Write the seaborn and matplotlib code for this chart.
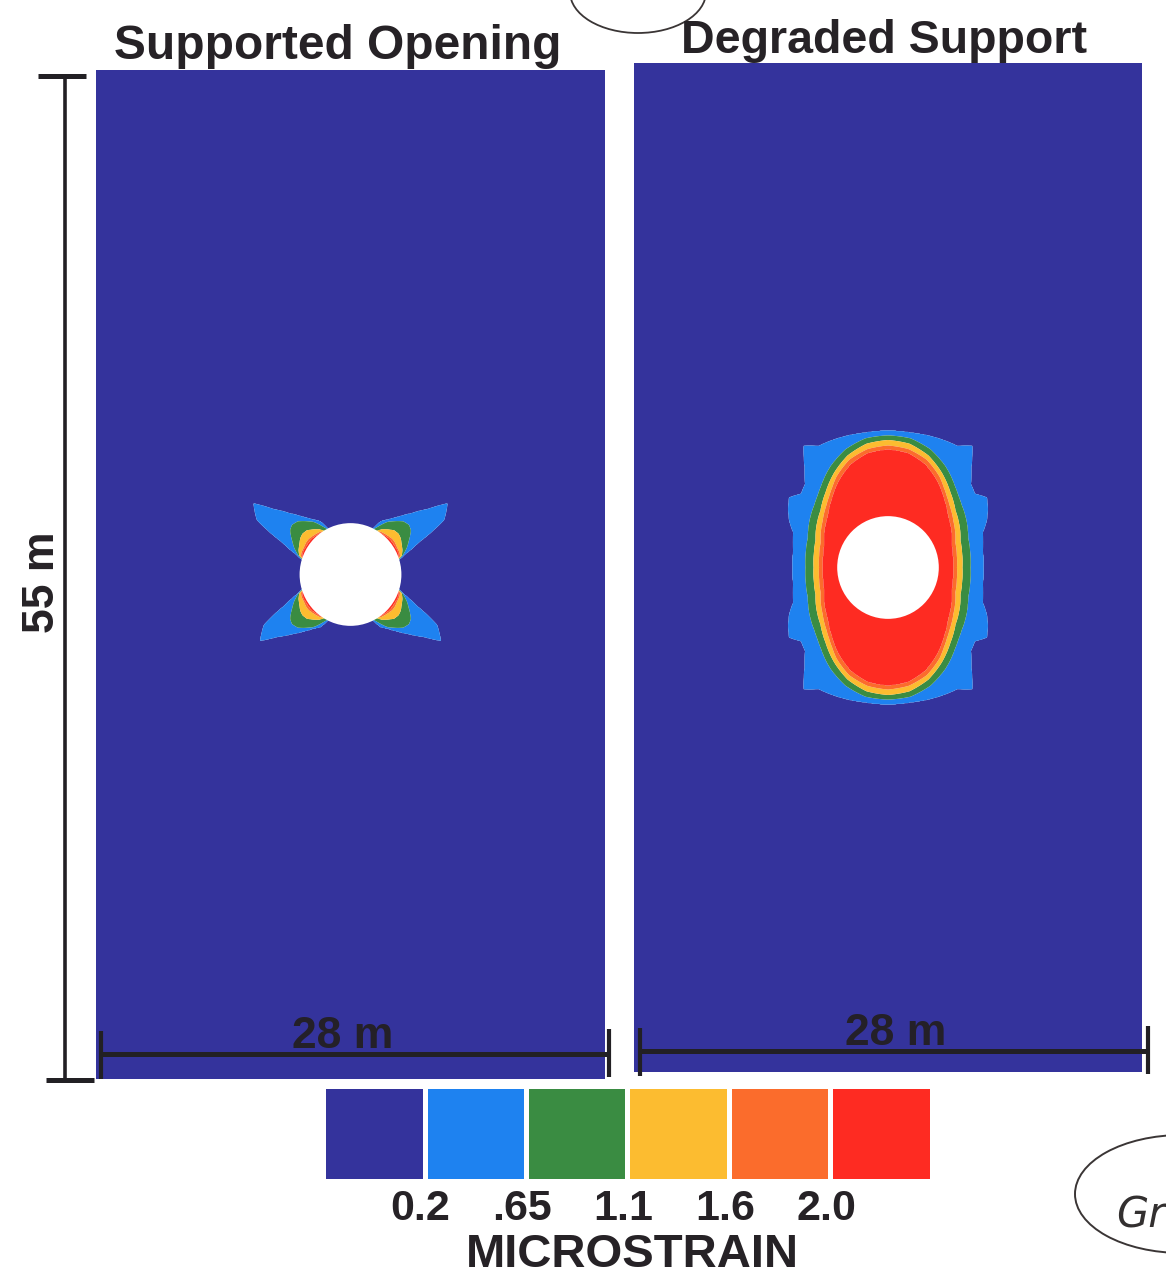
import numpy as np
import matplotlib
matplotlib.use("Agg")
import matplotlib.pyplot as plt
from matplotlib.colors import ListedColormap
from matplotlib.patches import Circle, Ellipse
import seaborn as sns

# ---------------------------------------------------------------------------
# Strain bands (microstrain) and fill colours
# ---------------------------------------------------------------------------
LEVELS = [0.2, 0.65, 1.1, 1.6, 2.0]
LEVEL_LABELS = ["0.2", ".65", "1.1", "1.6", "2.0"]
BAND_COLORS = ["#34339c", "#1e82f0", "#3a8c42", "#fcbc30", "#fb6c2c", "#fe2b22"]

# model block size (m) and opening radius (m)
WIDTH_M = 28.0
HEIGHT_M = 55.0
HOLE_RADIUS_M = 2.8

PANEL_TITLES = ["Supported Opening", "Degraded Support"]

# Supported opening: contour radius (m) against angle from the horizontal (deg),
# mirrored left/right; the lower half has its own outer contour
SUP_ANGLES = [0, 15, 20, 25, 30, 36, 40, 45, 50, 55, 60, 65, 90]
SUP_R_020 = [2.45, 2.6, 3.15, 4.15, 5.95, 6.6, 5.55, 4.7, 4.1, 3.65, 3.35, 2.6, 2.45]
SUP_R_020_LOW = [2.45, 2.6, 3.1, 4.0, 5.5, 6.15, 5.3, 4.6, 4.05, 3.6, 3.3, 2.6, 2.45]
SUP_R_065 = [2.45, 2.6, 3.05, 3.4, 3.7, 4.1, 4.2, 4.1, 3.8, 3.5, 3.0, 2.6, 2.45]
SUP_R_110 = [2.45, 2.5, 3.0, 3.15, 3.25, 3.4, 3.45, 3.4, 3.2, 3.0, 2.7, 2.45, 2.45]
SUP_R_160 = [2.45, 2.45, 2.9, 2.95, 2.95, 3.0, 3.0, 2.95, 2.9, 2.85, 2.5, 2.45, 2.45]
SUP_R_200 = [2.45, 2.45, 2.85, 2.9, 2.9, 2.9, 2.9, 2.88, 2.85, 2.82, 2.45, 2.45, 2.45]

# Degraded support: same layout, symmetric top and bottom
DEG_ANGLES = [0, 10, 20, 25, 30, 35, 40, 45, 50, 55, 60, 70, 80, 90]
DEG_R_020 = [5.25, 5.3, 5.55, 6.0, 6.35, 6.65, 6.25, 6.45, 7.15, 8.1, 7.65, 7.55, 7.45, 7.45]
DEG_R_065 = [4.55, 4.6, 4.7, 4.85, 5.0, 5.15, 5.3, 5.5, 5.75, 6.05, 6.35, 6.85, 7.15, 7.2]
DEG_R_110 = [4.1, 4.15, 4.25, 4.4, 4.55, 4.7, 4.85, 5.1, 5.35, 5.65, 5.95, 6.5, 6.85, 6.95]
DEG_R_160 = [3.8, 3.85, 3.95, 4.1, 4.25, 4.4, 4.6, 4.8, 5.05, 5.35, 5.7, 6.25, 6.55, 6.65]
DEG_R_200 = [3.6, 3.65, 3.75, 3.9, 4.05, 4.2, 4.35, 4.6, 4.85, 5.15, 5.45, 6.0, 6.35, 6.45]


def strain_field(X, Y, angles, upper, lower):
    """Piecewise-linear strain field whose level sets follow the given radii."""
    r = np.hypot(X, Y)
    th = np.degrees(np.arctan2(np.abs(Y), np.abs(X)))
    R = [np.where(Y >= 0, np.interp(th, angles, ru), np.interp(th, angles, rl))
         for ru, rl in zip(upper, lower)]
    for k in range(1, len(R)):
        R[k] = np.minimum(R[k], R[k - 1])
    f = LEVELS[0] - 0.1 * (r - R[0])
    for k in range(len(R) - 1):
        t = np.clip((R[k] - r) / (R[k] - R[k + 1] + 1e-9), 0, 1)
        f = np.where(r < R[k], LEVELS[k] + t * (LEVELS[k + 1] - LEVELS[k]), f)
    f = np.where(r < R[-1], LEVELS[-1] + 1e-6 + 0.1 * (R[-1] - r), f)
    return np.where(r < 0.97 * HOLE_RADIUS_M, np.nan, f)


sns.set_theme(style="white")
plt.rcParams["font.family"] = ["Liberation Sans", "DejaVu Sans"]
TEXT = "#262226"

W, H = 1166, 1275
fig = plt.figure(figsize=(W / 100, H / 100), dpi=100, facecolor="white")

xs = np.linspace(-WIDTH_M / 2, WIDTH_M / 2, 701)
ys = np.linspace(-HEIGHT_M / 2, HEIGHT_M / 2, 1377)
X, Y = np.meshgrid(xs, ys)

sup_upper = [SUP_R_020, SUP_R_065, SUP_R_110, SUP_R_160, SUP_R_200]
sup_lower = [SUP_R_020_LOW, SUP_R_065, SUP_R_110, SUP_R_160, SUP_R_200]
deg_radii = [DEG_R_020, DEG_R_065, DEG_R_110, DEG_R_160, DEG_R_200]

panels = [
    ([96, 1079, 509, 1009], SUP_ANGLES, sup_upper, sup_lower),
    ([634, 1072, 508, 1009], DEG_ANGLES, deg_radii, deg_radii),
]
for (px, pbot, pw, ph), angles, upper, lower in panels:
    ax = fig.add_axes([px / W, 1 - pbot / H, pw / W, ph / H])
    Z = strain_field(X, Y, angles, upper, lower)
    ax.contourf(X, Y, Z, levels=[-100] + LEVELS + [100], colors=BAND_COLORS,
                antialiased=True)
    ax.add_patch(Circle((0, 0), HOLE_RADIUS_M, fc="white", ec="none", zorder=3))
    ax.set_xlim(-WIDTH_M / 2, WIDTH_M / 2)
    ax.set_ylim(-HEIGHT_M / 2, HEIGHT_M / 2)
    ax.set_axis_off()

# colour key
cax = fig.add_axes([323 / W, 1 - 1181 / H, 609 / W, 95 / H])
sns.heatmap(np.arange(len(BAND_COLORS))[None, :], ax=cax,
            cmap=ListedColormap(BAND_COLORS), vmin=-0.5, vmax=len(BAND_COLORS) - 0.5,
            linewidths=2.5, linecolor="white", cbar=False)
cax.set_yticks([])
cax.set_xticks(np.arange(1, len(BAND_COLORS)) - 0.04)
cax.set_xticklabels(LEVEL_LABELS, fontsize=31, fontweight="bold", color=TEXT, rotation=0)
cax.tick_params(axis="x", length=0, pad=6)

# annotation layer in pixel coordinates
ov = fig.add_axes([0, 0, 1, 1], zorder=10)
ov.set_xlim(0, W)
ov.set_ylim(H, 0)
ov.set_axis_off()
ov.patch.set_alpha(0)

ov.text(338, 59, PANEL_TITLES[0], ha="center", va="baseline", fontsize=34.5,
        fontweight="bold", color=TEXT)
ov.text(884, 53, PANEL_TITLES[1], ha="center", va="baseline", fontsize=33.5,
        fontweight="bold", color=TEXT)

bar_kw = dict(color="#222024", solid_capstyle="butt")
# 55 m vertical scale
ov.plot([65, 65], [75, 1080], lw=2.6, **bar_kw)
ov.plot([38, 86], [76, 76], lw=3.6, **bar_kw)
ov.plot([46, 94], [1080, 1080], lw=3.6, **bar_kw)
ov.text(42, 582, "55 m", rotation=90, ha="center", va="center", fontsize=32,
        fontweight="bold", color=TEXT)
# 28 m horizontal scales
for x0, x1, yb, xc in [(101, 609, 1054, 343), (640, 1148, 1051, 896)]:
    ov.plot([x0, x1], [yb, yb], lw=3.6, **bar_kw)
    ov.plot([x0, x0], [yb - 23, yb + 25], lw=3.0, **bar_kw)
    ov.plot([x1, x1], [yb - 25, yb + 23], lw=3.0, **bar_kw)
    ov.text(xc, yb - 6, "28 m", ha="center", va="baseline", fontsize=32,
            fontweight="bold", color="#242028")

ov.text(632, 1267, "MICROSTRAIN", ha="center", va="baseline", fontsize=34,
        fontweight="bold", color=TEXT)

# pen marks
ov.add_patch(Ellipse((638, -8), 136, 82, fill=False, ec="#3a3535", lw=1.3))
ov.add_patch(Ellipse((1182, 1194), 214, 118, fill=False, ec="#3a3535", lw=1.4))
ov.text(1116, 1228, "Gr", ha="left", va="baseline", fontsize=30, fontstyle="italic",
        family=["DejaVu Sans"], color="#333030", clip_on=False)

fig.savefig("out.png", dpi=100, facecolor="white")
